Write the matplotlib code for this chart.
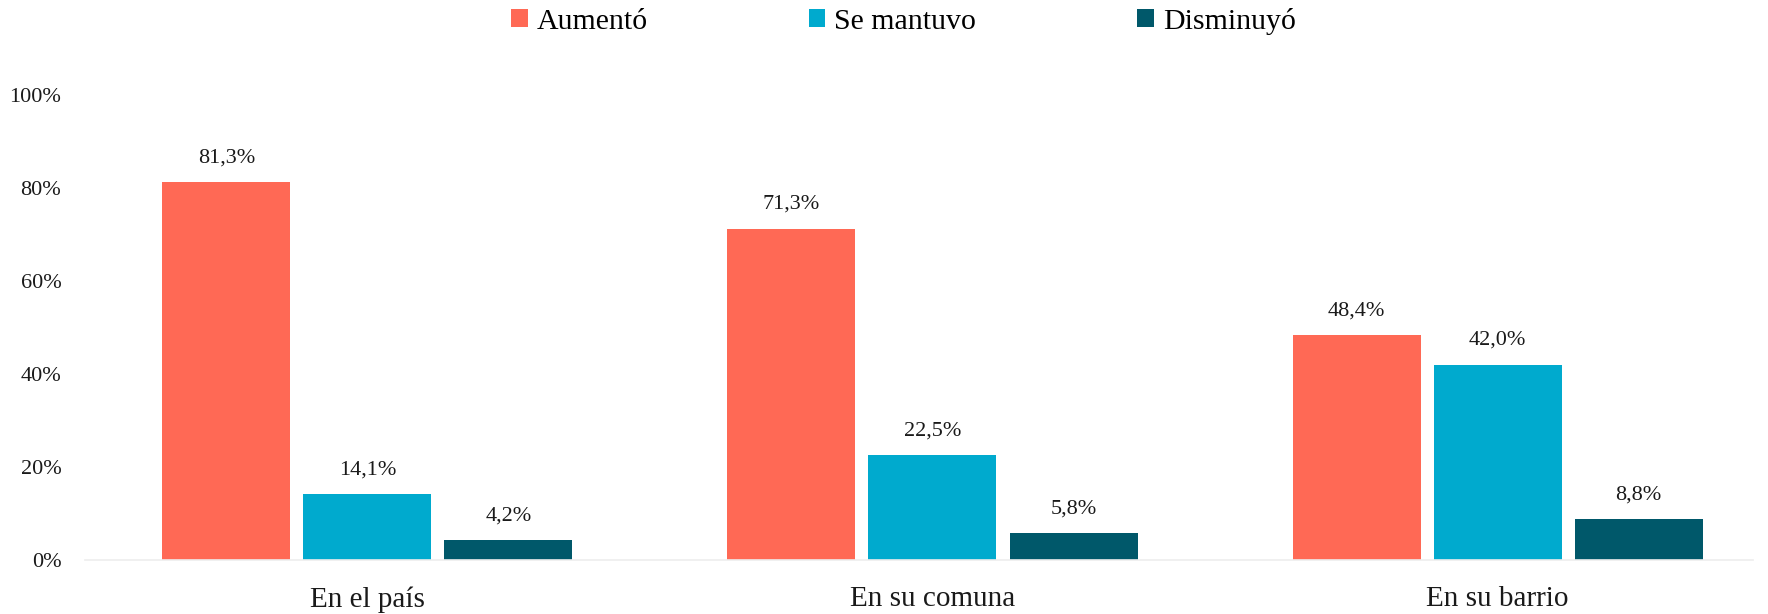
import numpy as np
import matplotlib.pyplot as plt

# datos
categorias = ['En el país', 'En su comuna', 'En su barrio']
series = ['Aumentó', 'Se mantuvo', 'Disminuyó']
aumento = [81.3, 71.3, 48.4]
se_mantuvo = [14.1, 22.5, 42.0]
disminuyo = [4.2, 5.8, 8.8]
colores = ['#FF6955', '#00AACE', '#00586A']

plt.rcParams['font.family'] = ['Liberation Serif', 'DejaVu Serif']

fig = plt.figure(figsize=(17.68, 6.14), dpi=100)
ax = fig.add_axes([0.048, 0.088, 0.9435, 0.757])

x = np.arange(len(categorias))
ancho = 0.2265
valores = [aumento, se_mantuvo, disminuyo]
for i, (nombre, vals) in enumerate(zip(series, valores)):
    pos = x + (i - 1) * 0.2496
    barras = ax.bar(pos, vals, ancho, color=colores[i], label=nombre, zorder=2)
    for b, v in zip(barras, vals):
        ax.text(b.get_x() + b.get_width() / 2, v + 3.2, f'{v:.1f}%'.replace('.', ','),
                ha='center', va='bottom', fontsize=16, color='#1a1a1a')

ax.set_xlim(-0.5, 2.452)
ax.set_ylim(0, 100)
ax.set_yticks([0, 20, 40, 60, 80, 100])
ax.set_yticklabels([f'{t}%' for t in [0, 20, 40, 60, 80, 100]], fontsize=16, color='#1a1a1a')
ax.set_xticks(x)
ax.set_xticklabels(categorias, fontsize=21, color='#1a1a1a')
ax.tick_params(axis='y', length=0, pad=17)
ax.tick_params(axis='x', length=0, pad=19)
for s in ['top', 'right', 'left']:
    ax.spines[s].set_visible(False)
ax.spines['bottom'].set_color('#EDEDED')
ax.spines['bottom'].set_linewidth(1.2)

fig.legend(loc='center', bbox_to_anchor=(0.511, 0.965), ncol=3, frameon=False,
           fontsize=21.5, handlelength=0.55, handleheight=0.55, handletextpad=0.3,
           columnspacing=5.4)

fig.savefig('out.png', dpi=100)
